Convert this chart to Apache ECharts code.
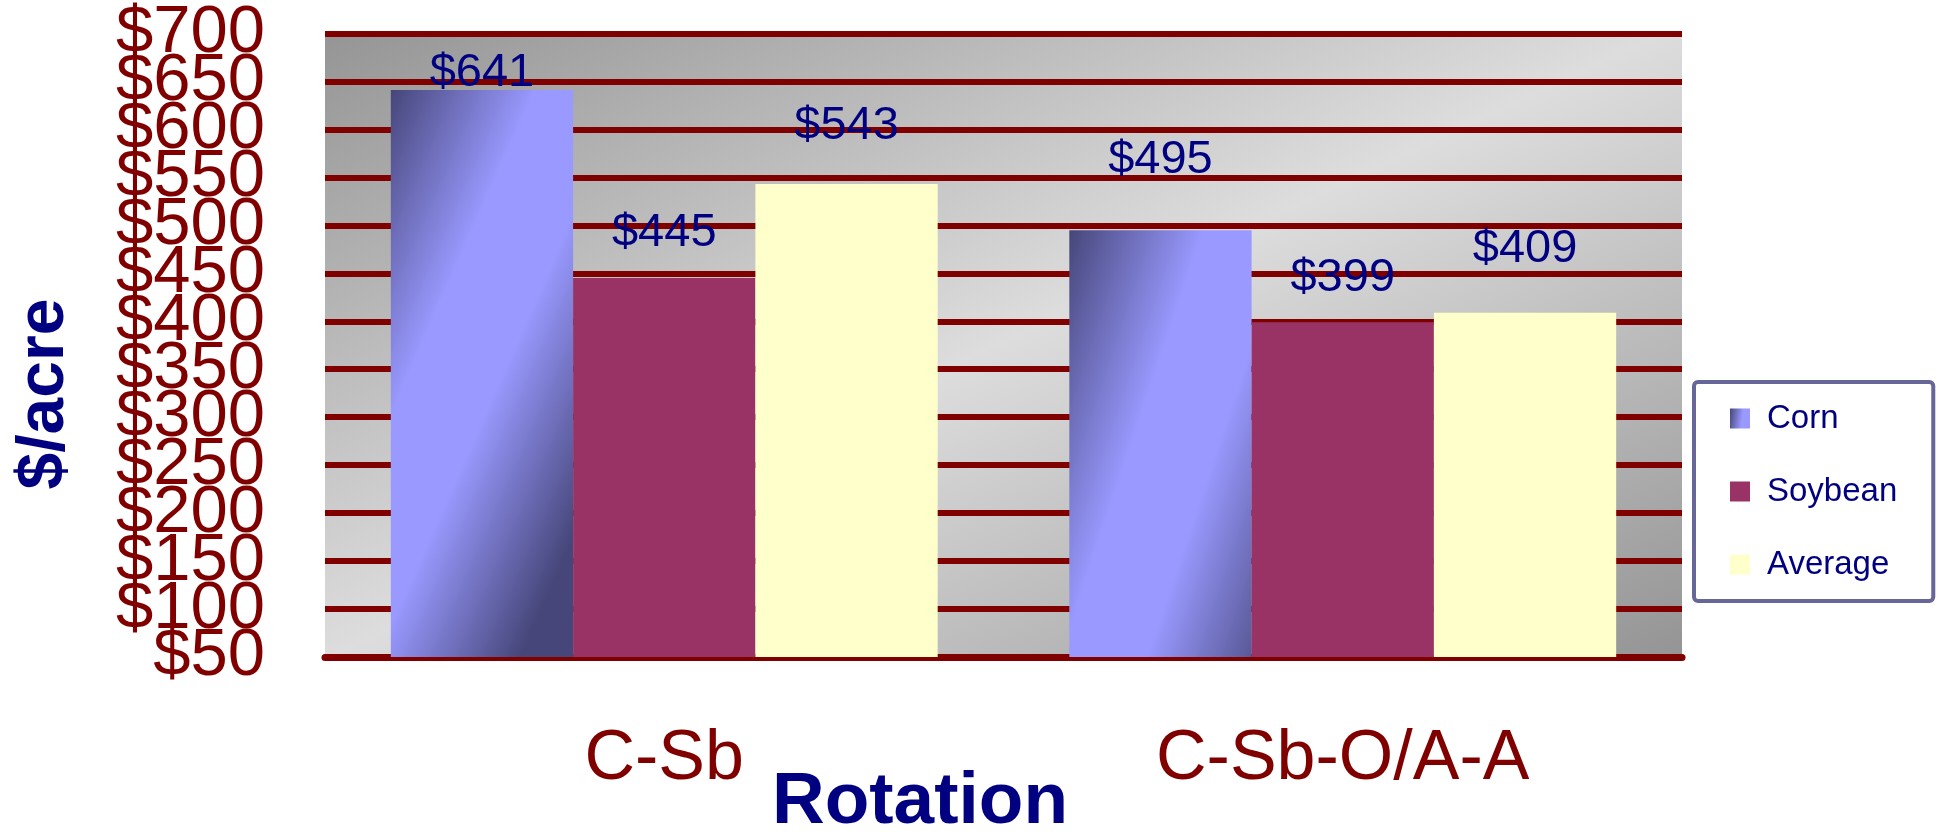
<!DOCTYPE html>
<html>
<head>
<meta charset="utf-8">
<title>Rotation $/acre</title>
<script src="https://cdn.jsdelivr.net/npm/echarts@6.0.0/dist/echarts.min.js"></script>
<style>
	html, body { margin: 0; padding: 0; background: #ffffff; }
	#graf_content { width: 1944px; height: 832px; }
</style>
</head>
<body>
<div id="graf_content"></div>
<script>
// rotation names (x axis)
let rotationList = ['C-Sb', 'C-Sb-O/A-A'];
// $/acre for each rotation
let cornList = [641, 495];
let soyList = [445, 399];
let avgList = [543, 409];
// series names for the legend
let seriesNames = ['Corn', 'Soybean', 'Average'];
// y axis range
let yMin = 50;
let yMax = 700;
let yStep = 50;

let fontName = '"Liberation Sans", Arial, sans-serif';

// how far each value label sits above its bar (not the same on every bar in the original)
let liftCorn = [-6, 47];
let liftSoy = [22, 21];
let liftAvg = [35, 40];

// dark - light - dark shading, light band running corner to corner
function shade(x2, y2, dark, light){
	return new echarts.graphic.LinearGradient(0, 0, x2, y2, [
		{offset: 0, color: dark},
		{offset: 0.38, color: light},
		{offset: 0.62, color: light},
		{offset: 1, color: dark}
	]);
}

// builds the data items of one series
function makeData(list, lift){
	let arr = [];
	for(let i = 0; i < list.length; i++){
		arr.push({value: list[i], label: {distance: lift[i]}});
	}
	return arr;
}

// the tick labels overlap each other, so they are split over two axes
// (even hundreds on one, the fifties on the other) to keep echarts from hiding any
function yAxisMaker(odd){
	return {
		type: 'value',
		position: 'left',
		min: yMin,
		max: yMax,
		interval: yStep,
		axisLine: {show: false},
		axisTick: {show: false},
		splitLine: {show: !odd, lineStyle: {color: '#800000', width: 6}},
		axisLabel: {
			color: '#800000',
			fontSize: 67,
			fontFamily: fontName,
			margin: 60,
			showMinLabel: odd,
			showMaxLabel: !odd,
			formatter: function(v){
				let isOdd = (Math.round(v / yStep) % 2) == 1;
				return isOdd == odd ? '$' + v : '';
			}
		}
	};
}

let labelStyle = {
	show: true,
	position: 'top',
	color: '#000080',
	fontSize: 47,
	fontFamily: fontName,
	formatter: function(p){ return '$' + p.value; }
};

var myChart = echarts.init(document.getElementById('graf_content'));

var option = {
	animation: false,
	backgroundColor: '#ffffff',
	grid: {
		left: 325,
		right: 262,
		top: 31,
		bottom: 175,
		show: true,
		borderWidth: 0,
		backgroundColor: new echarts.graphic.LinearGradient(0, 0, 0.354, 1.646, [
			{offset: 0, color: '#959595'},
			{offset: 0.5, color: '#dddddd'},
			{offset: 1, color: '#959595'}
		])
	},
	legend: {
		orient: 'vertical',
		left: 1694,
		top: 382,
		icon: 'rect',
		itemWidth: 20,
		itemHeight: 20,
		itemGap: 40,
		padding: [20, 36, 20, 36],
		borderColor: '#666699',
		borderWidth: 4,
		borderRadius: 4,
		backgroundColor: '#ffffff',
		textStyle: {
			color: '#000080',
			fontSize: 33,
			lineHeight: 30,
			fontFamily: fontName,
			padding: [0, 0, 0, 12]
		},
		data: seriesNames
	},
	xAxis: {
		type: 'category',
		data: rotationList,
		axisLine: {lineStyle: {color: '#800000', width: 7}},
		axisTick: {show: false},
		axisLabel: {
			color: '#800000',
			fontSize: 70,
			fontFamily: fontName,
			margin: 68
		}
	},
	yAxis: [yAxisMaker(false), yAxisMaker(true)],
	graphic: [
		{
			type: 'text',
			x: 920,
			y: 803,
			style: {
				text: 'Rotation',
				fill: '#000080',
				fontSize: 73,
				fontWeight: 'bold',
				fontFamily: fontName,
				align: 'center',
				verticalAlign: 'middle'
			}
		},
		{
			type: 'text',
			x: 45,
			y: 394,
			rotation: Math.PI / 2,
			style: {
				text: '$/acre',
				fill: '#000080',
				fontSize: 66,
				fontWeight: 'bold',
				fontFamily: fontName,
				align: 'center',
				verticalAlign: 'middle'
			}
		}
	],
	series: [
		{
			name: seriesNames[0],
			type: 'bar',
			barGap: '0%',
			barCategoryGap: '19.4%',
			itemStyle: {color: shade(1.75, 0.25, '#46467a', '#9999ff')},
			label: labelStyle,
			data: makeData(cornList, liftCorn)
		},
		{
			name: seriesNames[1],
			type: 'bar',
			barGap: '0%',
			barCategoryGap: '19.4%',
			itemStyle: {color: '#993366'},
			label: labelStyle,
			data: makeData(soyList, liftSoy)
		},
		{
			name: seriesNames[2],
			type: 'bar',
			barGap: '0%',
			barCategoryGap: '19.4%',
			itemStyle: {color: '#ffffcc'},
			label: labelStyle,
			data: makeData(avgList, liftAvg)
		}
	]
};

myChart.setOption(option);
</script>
</body>
</html>
